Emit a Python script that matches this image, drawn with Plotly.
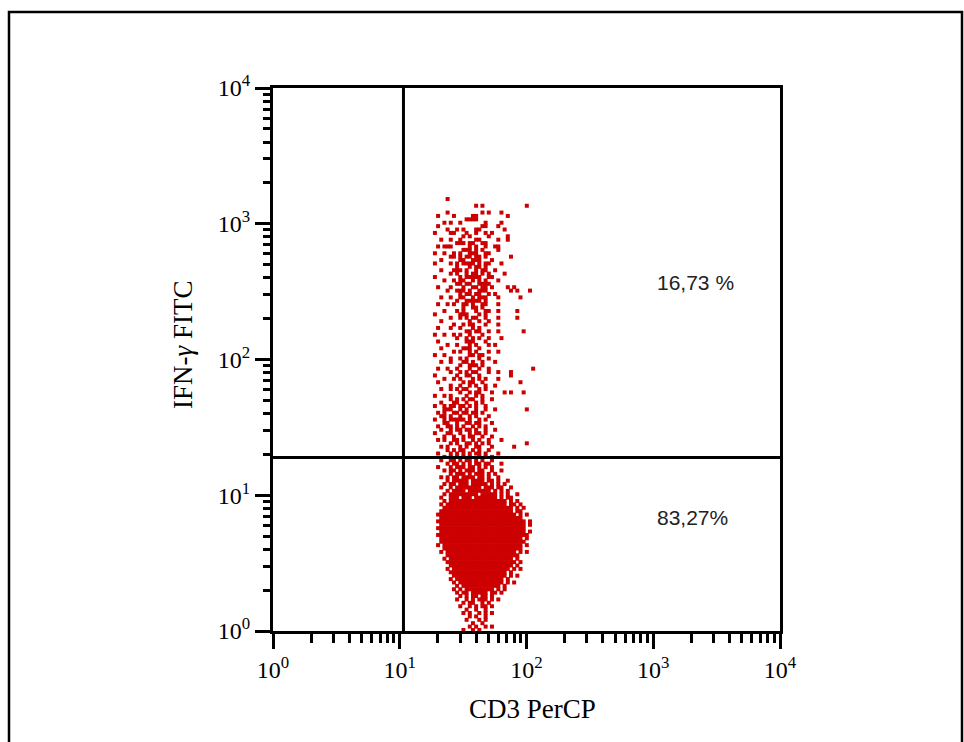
import plotly.graph_objects as go

# ---------------- data ----------------
# Event bitmap: each row is one bin in log10(IFN-gamma),
# each column one bin in log10(CD3); '#' = at least one event in that bin.
X_START_LOG = 1.24     # log10 CD3 of first column edge
X_STEP_LOG = 0.025     # bin width (decades)
Y_TOP_LOG = 3.22       # log10 IFN-gamma of first row top edge
Y_STEP_LOG = 0.025     # bin height (decades)

event_rows = [
    "",
    ".....#",
    "",
    "..............#.#.............#",
    "",
    ".....#..........#.#...#",
    "..#....#.....##.........#",
    "...........####",
    "....#.#..#.......#....#",
    "..#.............##...#",
    ".....#..#.#...##.......#",
    ".#....##...#..#..#.#",
    "..........#.#.....#.....#",
    "...#..#..#....##.....#..#",
    "........###.##..##",
    "..#.###.....#.#..#..##",
    "..........###.#.#....#",
    ".#..#..#.#..###..##",
    "......##.#.##.##.#.......#",
    "...#.....##..###...#",
    ".#....#.#.####.#.##...#",
    "........#...#.##.#",
    "...#...###.#..#.##..#",
    "......#.#..#.##.#.#....#",
    ".#.......#.#####..##",
    "....#..#.##..#.#.#...#",
    "........##.##..####",
    "..#...#...#..##.##.#....#.#",
    ".....#..###.#..###.......#.#...#..",
    ".........#.##.##..#.#",
    "...#..#..##..#.###...#......#",
    "........#..#####.#",
    "..#..#.#..##.#..##...#",
    "..........#..##.#",
    "....#...#.#...#..##..#.....#",
    ".#.......###...#.#",
    "......#..#.#.##..#...#.....#",
    "...#........#..#..#",
    ".......#..#.##...#...#",
    "..#...#..#...#.#",
    "...........##.##..#..#.......#",
    ".#..#..#.#..#...#",
    "........#..#.#.#..#...#",
    "..#........###...#",
    ".....#..#...#.#...#.#",
    "...#......###..#",
    ".......#.#..#.#...#..#",
    ".#..#.......##.##",
    "......#..#.#...#..#",
    "...#..#...##.#..#...#",
    ".........#..###.#",
    "..#..#..#...#..#..#.............#",
    "......#..#.#.##...#..#...#",
    ".#......#..##..#.........#",
    "....#..#.#...#.#.#...#",
    "..#.......#.##..#...........#",
    "......#..#..#.#..#..#",
    "...#..#.#.##...#.#",
    ".........#..#.##...#...#.#...#",
    ".#..#.#....#..#.#",
    "......#.#.#.##..#..#",
    "...#...##..#..#.#",
    ".#..#.##.##.#.#..#",
    "....###..#.#..#..#..#.........#",
    "..#.#..##.##.##.#",
    "...##.#..#..#.#...#",
    ".#..#.#####.#..#.#",
    "....##..#..##.##...#",
    "..#..##.#.#..#.#.#",
    "...#..#.##.##.#..#..#",
    ".#...##..#..#.##.#",
    "....#..#..#.##..#..#",
    "..#.#..##.#..#.#..#...#",
    "......#.#..##.#.#.#...........#",
    "...#.#...#.#..##...#......#",
    ".....#.#.##..#.#..#",
    "..#...#.#.#.#.##.#...#",
    "....#.#.#.#.#..#.#.#",
    "...#..##.#.##.#.#..#",
    ".....#.##.#.#.##.##...#",
    "..#...#.###.##.#.#.#",
    "....#.##.#.###.##..#..#",
    "......#.###.#.###.#.#",
    "...#.#.##.####.##.#..#",
    ".....#.#####.####.##.#..#",
    "....#.##.###.#####.#.#.#",
    "...#..#.########.###.##..#",
    ".....#.####.#######.#.#.#",
    "....#.#########.#####.#.#..#",
    "...#..###.###.#######.#.##",
    "....#.##################.#.#",
    "...#.###################.##.#",
    "....######################.#.#",
    "...#######################.##",
    "..#########################.#.#",
    "...##########################",
    "..############################.#",
    "...###########################.#",
    "..############################",
    "...###########################.#",
    "..#############################",
    "...##########################.#",
    "...###########################",
    "..#.#########################.#",
    "....#########################",
    "...#.######################.#.#",
    ".....#######################",
    "....#.####################.#",
    ".....######################.#",
    "......####################.#",
    ".....#.##################.#.#",
    "......##################.#",
    ".......#################.#.#",
    "......#.###############.#",
    ".......#.##############.#.#",
    "........#.############.#",
    ".......#.#.#########.#.#",
    "........#.##.#####.##.#",
    ".........#.#.##.##.#",
    "........#..#.#.###.#.#",
    "..........#.##..#.#",
    ".........#..#.#.##.#",
    "...........#..#..#",
    "..........#.#..#.#.#",
    "............#.#..#",
    "...........#...#.#",
    ".............#..#",
    "............#.#..#.#",
    "..........#..#.#",
]

# quadrant gate positions (data units)
GATE_CD3 = 10.7
GATE_IFN = 19.0

# axis ticks
major_ticks = [1, 10, 100, 1000, 10000]
major_labels = ["10<sup>0</sup>", "10<sup>1</sup>", "10<sup>2</sup>",
                "10<sup>3</sup>", "10<sup>4</sup>"]
minor_ticks = [m * 10 ** d for d in range(4) for m in range(2, 10)]

# quadrant statistics
upper_right_pct = "16,73 %"
lower_right_pct = "83,27%"

x_title = "CD3 PerCP"
y_title = "IFN-<i>γ</i> FITC"

# ---------------- build ----------------
xs, ys = [], []
for r, row in enumerate(event_rows):
    for c, ch in enumerate(row):
        if ch == "#":
            xs.append(10 ** (X_START_LOG + (c + 0.5) * X_STEP_LOG))
            ys.append(10 ** (Y_TOP_LOG - (r + 0.5) * Y_STEP_LOG))

RED = "#CC0000"
fig = go.Figure()
fig.add_trace(go.Scatter(
    x=xs, y=ys, mode="markers",
    marker=dict(symbol="square", size=4, color=RED, line=dict(width=0)),
    hoverinfo="skip",
))
# quadrant lines
fig.add_trace(go.Scatter(x=[GATE_CD3, GATE_CD3], y=[1, 10000], mode="lines",
                         line=dict(color="black", width=3), hoverinfo="skip"))
fig.add_trace(go.Scatter(x=[1, 10000], y=[GATE_IFN, GATE_IFN], mode="lines",
                         line=dict(color="black", width=3), hoverinfo="skip"))

# pixel layout
W, H = 964, 742
L, R, T, B = 273, 780, 88, 631
pw, ph = R - L, B - T


def px(xp):
    return (xp - L) / pw


def py(yp):
    return (B - yp) / ph


tickfont = dict(family="Liberation Serif", size=24, color="black")
axis_common = dict(
    type="log", range=[0, 4], showline=True, linewidth=3, linecolor="black",
    mirror=True, ticks="outside", ticklen=15, tickwidth=3, tickcolor="black",
    tickmode="array", tickvals=major_ticks, ticktext=major_labels,
    tickfont=tickfont, showgrid=False, zeroline=False, fixedrange=True,
)

ann_common = dict(xref="paper", yref="paper", showarrow=False,
                  xanchor="center", yanchor="middle")

fig.update_layout(
    width=W, height=H,
    margin=dict(l=L, r=W - R, t=T, b=H - B, pad=0),
    paper_bgcolor="white", plot_bgcolor="white",
    showlegend=False,
    xaxis=dict(**axis_common,
               minor=dict(tickmode="array", tickvals=minor_ticks, ticks="outside",
                          ticklen=9, tickwidth=3, tickcolor="black", showgrid=False)),
    yaxis=dict(**axis_common,
               minor=dict(tickmode="array", tickvals=minor_ticks, ticks="outside",
                          ticklen=7, tickwidth=3, tickcolor="black", showgrid=False)),
    annotations=[
        dict(text=upper_right_pct, x=px(695), y=py(282), **ann_common,
             font=dict(family="Liberation Sans", size=21, color="#222")),
        dict(text=lower_right_pct, x=px(692), y=py(517), **ann_common,
             font=dict(family="Liberation Sans", size=21, color="#222")),
        dict(text=x_title, x=px(532), y=py(709), **ann_common,
             font=dict(family="Liberation Serif", size=27, color="black")),
        dict(text=y_title, x=px(183), y=py(345), textangle=-90, **ann_common,
             font=dict(family="Liberation Serif", size=27, color="black")),
    ],
    shapes=[
        dict(type="rect", xref="paper", yref="paper",
             x0=px(9), x1=px(962), y0=py(780), y1=py(12),
             line=dict(color="black", width=2.5), fillcolor="rgba(0,0,0,0)", layer="below"),
    ],
)

fig.write_html("out.html", config={"displayModeBar": False},
               post_script="document.body.style.margin='0px';")
